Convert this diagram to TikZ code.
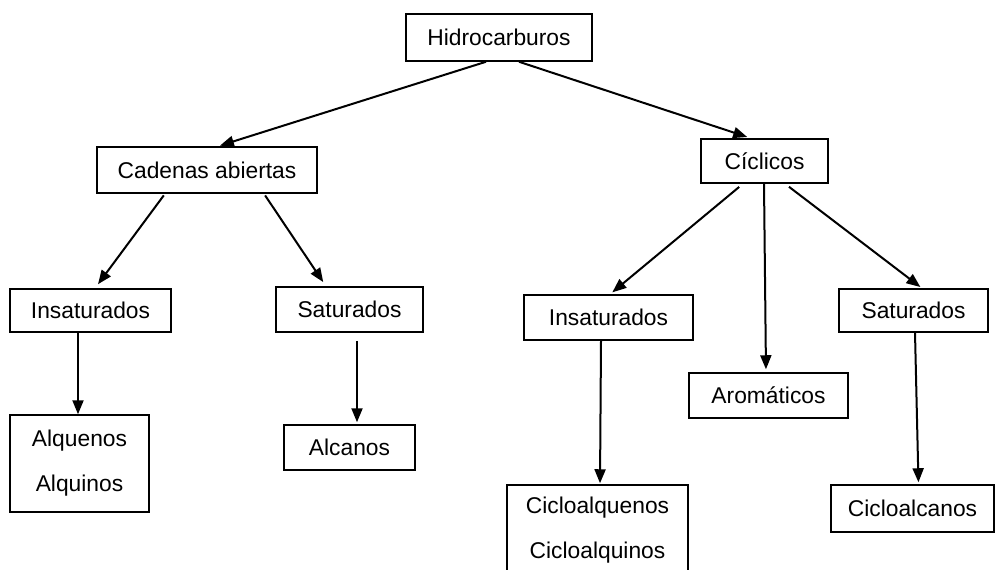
\documentclass[tikz,border=0pt]{standalone}
\usepackage{fontspec}
\setmainfont{Liberation Sans}
\usetikzlibrary{arrows.meta}

\tikzset{
    caja/.style={draw, line width=0.75pt, inner sep=0pt, align=center,
        font=\fontsize{11.4pt}{22.5pt}\selectfont},
    flecha/.style={line width=1pt, -{Triangle[width=5.5pt,length=7pt]}}
}

\begin{document}
\begin{tikzpicture}[x=0.5pt,y=-0.5pt]
    \useasboundingbox (0,0) rectangle (995,569);
    \clip (0,0) rectangle (995,569);

    \node[caja,minimum width=93pt,minimum height=23.5pt]  (hidro)   at (499,37.5)   {Hidrocarburos};
    \node[caja,minimum width=110pt,minimum height=23pt]   (cadenas) at (207,170)    {Cadenas abiertas};
    \node[caja,minimum width=63.5pt,minimum height=22pt]  (ciclic)  at (764.5,161)  {Cíclicos};
    \node[caja,minimum width=80.5pt,minimum height=21.5pt] (insatA) at (90.5,310.5) {Insaturados};
    \node[caja,minimum width=73.5pt,minimum height=22.5pt] (satA)   at (349.5,309.5) {Saturados};
    \node[caja,minimum width=69.5pt,minimum height=48.5pt] (alqA)   at (79.5,463.5) {Alquenos\\Alquinos};
    \node[caja,minimum width=65.5pt,minimum height=22.5pt] (alcA)   at (349.5,447.5) {Alcanos};
    \node[caja,minimum width=84.5pt,minimum height=22.5pt] (insatC) at (608.5,317.5) {Insaturados};
    \node[caja,minimum width=79.5pt,minimum height=22.5pt] (arom)   at (768.5,395.5) {Aromáticos};
    \node[caja,minimum width=74.5pt,minimum height=21.5pt] (satC)   at (913.5,310.5) {Saturados};
    \node[caja,minimum width=90.5pt,minimum height=45.5pt] (alqC)   at (597.5,530.5) {Cicloalquenos\\Cicloalquinos};
    \node[caja,minimum width=81.5pt,minimum height=23.5pt] (alcC)   at (912.5,508.5) {Cicloalcanos};

    \path[flecha]
        ([xshift=-6.5pt]hidro.south)   edge[shorten >=1pt] ([xshift=5.5pt]cadenas.north)
        ([xshift=10pt]hidro.south)     edge[shorten >=2pt] ([xshift=-6.75pt]ciclic.north)
        ([xshift=-21pt]cadenas.south)  edge[shorten <=1pt,shorten >=2.5pt] ([xshift=2.25pt]insatA.north)
        ([xshift=28.5pt]cadenas.south) edge[shorten <=1pt,shorten >=2.5pt] ([xshift=-11.75pt]satA.north)
        ([xshift=-10.75pt]ciclic.south) edge[shorten <=2.5pt,shorten >=1.5pt] ([xshift=0.75pt]insatC.north)
        ([xshift=-0.25pt]ciclic.south) edge[shorten >=1.5pt] ([xshift=-1.25pt]arom.north)
        ([xshift=10.25pt]ciclic.south) edge[shorten <=2.5pt,shorten >=1pt] ([xshift=4.25pt]satC.north)
        ([xshift=-6.25pt]insatA.south) edge ([xshift=-0.75pt]alqA.north)
        ([xshift=3.75pt]satA.south)    edge[shorten <=4pt,shorten >=1pt] ([xshift=3.75pt]alcA.north)
        ([xshift=-3.75pt]insatC.south) edge[shorten >=0.5pt] ([xshift=1.25pt]alqC.north)
        ([xshift=0.75pt]satC.south)    edge[shorten >=1pt] ([xshift=3pt]alcC.north)
        ;
\end{tikzpicture}
\end{document}
